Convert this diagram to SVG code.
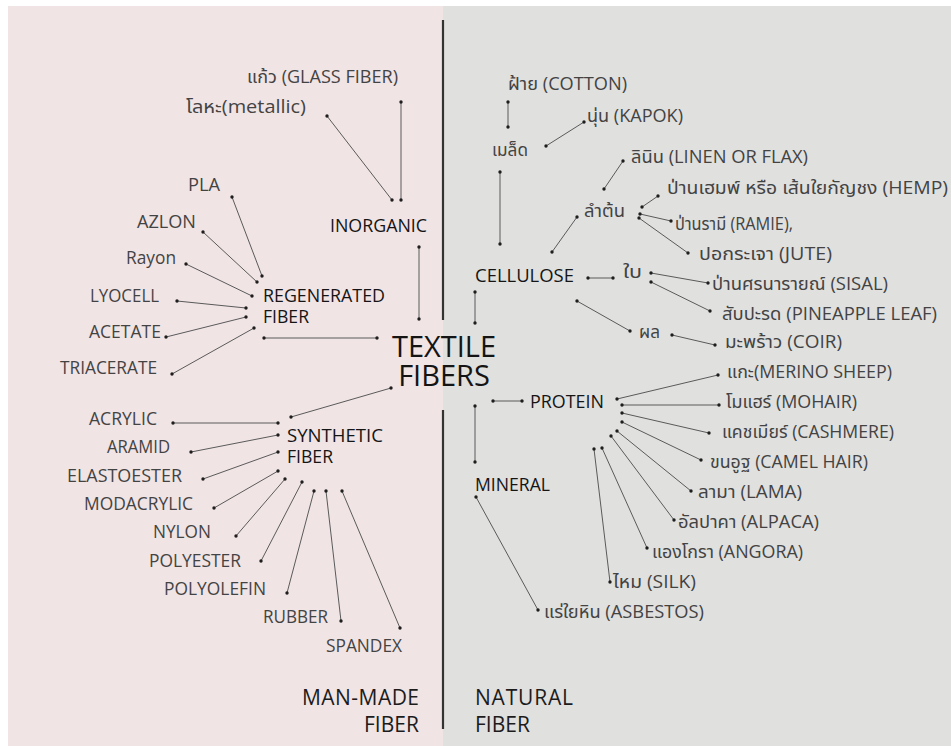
<svg xmlns="http://www.w3.org/2000/svg" width="951" height="746" viewBox="0 0 951 746">
<style>
text{font-family:"Open Sans","Noto Sans Thai","Noto Sans","DejaVu Sans",sans-serif;font-size:18px;fill:#434343}
.cat{fill:#151515;font-weight:500;font-size:17.5px}
.big{font-size:29px;fill:#141414;text-anchor:middle}
.side{font-size:21px;fill:#1c1c1c}
.c line{stroke:#5a5a5a;stroke-width:1;marker-start:url(#dot);marker-end:url(#dot)}
.div{stroke:#333;stroke-width:2.2}
</style>
<defs>
<marker id="dot" markerUnits="userSpaceOnUse" markerWidth="6" markerHeight="6" refX="3" refY="3" viewBox="0 0 6 6"><circle cx="3" cy="3" r="1.7" fill="#1e1e1e"/></marker>
</defs>
<rect width="951" height="746" fill="#ffffff"/>
<rect x="8" y="6" width="435" height="740" fill="#f1e4e5"/>
<rect x="443" y="6" width="508" height="740" fill="#e0e0df"/>
<g id="dividers">
<line class="div" x1="443" y1="20" x2="443" y2="320"/>
<line class="div" x1="443" y1="410" x2="443" y2="729"/>
</g>
<g class="c" id="connectors">
<line x1="401" y1="102" x2="401" y2="200"/>
<line x1="327" y1="116" x2="392" y2="200"/>
<line x1="419" y1="247" x2="419" y2="319"/>
<line x1="232" y1="197" x2="262" y2="276"/>
<line x1="203" y1="232" x2="257" y2="282"/>
<line x1="186" y1="264" x2="252" y2="296"/>
<line x1="177" y1="301" x2="246" y2="308"/>
<line x1="166" y1="337" x2="246" y2="317"/>
<line x1="172" y1="374" x2="254" y2="328"/>
<line x1="264" y1="338" x2="377" y2="338"/>
<line x1="391" y1="388" x2="291" y2="417"/>
<line x1="173" y1="423" x2="278" y2="423"/>
<line x1="191" y1="452" x2="278" y2="435"/>
<line x1="203" y1="479" x2="278" y2="452"/>
<line x1="214" y1="508" x2="278" y2="471"/>
<line x1="236" y1="536" x2="285" y2="479"/>
<line x1="261" y1="561" x2="302" y2="482"/>
<line x1="287" y1="593" x2="314" y2="491"/>
<line x1="341" y1="621" x2="326" y2="491"/>
<line x1="400" y1="628" x2="342" y2="491"/>
<line x1="508" y1="102" x2="508" y2="127"/>
<line x1="584" y1="122" x2="546" y2="146"/>
<line x1="500" y1="172" x2="500" y2="244"/>
<line x1="623" y1="161" x2="604" y2="189"/>
<line x1="577" y1="217" x2="552" y2="252"/>
<line x1="642" y1="207" x2="658" y2="196"/>
<line x1="640" y1="214" x2="671" y2="221"/>
<line x1="639" y1="218" x2="688" y2="253"/>
<line x1="588" y1="278" x2="613" y2="278"/>
<line x1="651" y1="273" x2="708" y2="283"/>
<line x1="651" y1="282" x2="710" y2="311"/>
<line x1="577" y1="301" x2="630" y2="331"/>
<line x1="672" y1="335" x2="715" y2="345"/>
<line x1="475" y1="292" x2="475" y2="323"/>
<line x1="493" y1="401" x2="522" y2="401"/>
<line x1="475" y1="406" x2="475" y2="462"/>
<line x1="617" y1="399" x2="718" y2="375"/>
<line x1="622" y1="405" x2="719" y2="405"/>
<line x1="622" y1="413" x2="709" y2="433"/>
<line x1="622" y1="422" x2="701" y2="460"/>
<line x1="617" y1="431" x2="691" y2="491"/>
<line x1="611" y1="436" x2="674" y2="520"/>
<line x1="602" y1="448" x2="647" y2="548"/>
<line x1="594" y1="449" x2="610" y2="582"/>
<line x1="476" y1="497" x2="538" y2="610"/>
</g>
<g id="textile-fibers"><text class="big"><tspan x="444" y="357">TEXTILE</tspan><tspan x="444" y="386">FIBERS</tspan></text></g>
<g id="man-made"><text class="side" x="419" y="705" text-anchor="end" textLength="117">MAN-MADE</text><text class="side" x="419" y="732" text-anchor="end" textLength="55">FIBER</text></g>
<g id="natural"><text class="side" x="475" y="705" textLength="98">NATURAL</text><text class="side" x="475" y="732" textLength="55">FIBER</text></g>
<g id="inorganic"><text class="cat" x="330" y="232" textLength="97" lengthAdjust="spacingAndGlyphs">INORGANIC</text></g>
<g id="glass"><text x="247" y="83" textLength="151" lengthAdjust="spacingAndGlyphs">แก้ว (GLASS FIBER)</text></g>
<g id="metallic"><text x="186" y="113" textLength="120" lengthAdjust="spacingAndGlyphs">โลหะ(metallic)</text></g>
<g id="regenerated"><text class="cat" x="263" y="302" textLength="122" lengthAdjust="spacingAndGlyphs">REGENERATED</text><text class="cat" x="263" y="323" textLength="46" lengthAdjust="spacingAndGlyphs">FIBER</text></g>
<g id="pla"><text x="188" y="191" textLength="32" lengthAdjust="spacingAndGlyphs">PLA</text></g>
<g id="azlon"><text x="137" y="228" textLength="59" lengthAdjust="spacingAndGlyphs">AZLON</text></g>
<g id="rayon"><text x="126" y="264" textLength="50" lengthAdjust="spacingAndGlyphs">Rayon</text></g>
<g id="lyocell"><text x="90" y="302" textLength="69" lengthAdjust="spacingAndGlyphs">LYOCELL</text></g>
<g id="acetate"><text x="89" y="338" textLength="72" lengthAdjust="spacingAndGlyphs">ACETATE</text></g>
<g id="triacerate"><text x="60" y="374" textLength="97" lengthAdjust="spacingAndGlyphs">TRIACERATE</text></g>
<g id="synthetic"><text class="cat" x="287" y="442" textLength="96" lengthAdjust="spacingAndGlyphs">SYNTHETIC</text><text class="cat" x="287" y="463" textLength="46" lengthAdjust="spacingAndGlyphs">FIBER</text></g>
<g id="acrylic"><text x="89" y="425" textLength="68" lengthAdjust="spacingAndGlyphs">ACRYLIC</text></g>
<g id="aramid"><text x="107" y="453" textLength="63" lengthAdjust="spacingAndGlyphs">ARAMID</text></g>
<g id="elastoester"><text x="67" y="482" textLength="115" lengthAdjust="spacingAndGlyphs">ELASTOESTER</text></g>
<g id="modacrylic"><text x="84" y="510" textLength="109" lengthAdjust="spacingAndGlyphs">MODACRYLIC</text></g>
<g id="nylon"><text x="153" y="538" textLength="58" lengthAdjust="spacingAndGlyphs">NYLON</text></g>
<g id="polyester"><text x="149" y="567" textLength="92" lengthAdjust="spacingAndGlyphs">POLYESTER</text></g>
<g id="polyolefin"><text x="164" y="595" textLength="102" lengthAdjust="spacingAndGlyphs">POLYOLEFIN</text></g>
<g id="rubber"><text x="263" y="623" textLength="65" lengthAdjust="spacingAndGlyphs">RUBBER</text></g>
<g id="spandex"><text x="326" y="652" textLength="76" lengthAdjust="spacingAndGlyphs">SPANDEX</text></g>
<g id="cellulose"><text class="cat" x="475" y="282" textLength="99" lengthAdjust="spacingAndGlyphs">CELLULOSE</text></g>
<g id="seed"><text x="492" y="156" textLength="36" lengthAdjust="spacingAndGlyphs">เมล็ด</text></g>
<g id="cotton"><text x="508" y="90" textLength="119" lengthAdjust="spacingAndGlyphs">ฝ้าย (COTTON)</text></g>
<g id="kapok"><text x="587" y="122" textLength="96" lengthAdjust="spacingAndGlyphs">นุ่น (KAPOK)</text></g>
<g id="stem"><text x="584" y="217" textLength="41" lengthAdjust="spacingAndGlyphs">ลำต้น</text></g>
<g id="linen"><text x="631" y="163" textLength="177" lengthAdjust="spacingAndGlyphs">ลินิน (LINEN OR FLAX)</text></g>
<g id="hemp"><text x="667" y="194" textLength="281" lengthAdjust="spacingAndGlyphs">ป่านเฮมพ์ หรือ เส้นใยกัญชง (HEMP)</text></g>
<g id="ramie"><text x="675" y="230" textLength="118" lengthAdjust="spacingAndGlyphs">ป่านรามี (RAMIE),</text></g>
<g id="jute"><text x="699" y="260" textLength="133" lengthAdjust="spacingAndGlyphs">ปอกระเจา (JUTE)</text></g>
<g id="leaf"><text x="623" y="278" textLength="19" lengthAdjust="spacingAndGlyphs">ใบ</text></g>
<g id="sisal"><text x="712" y="290" textLength="176" lengthAdjust="spacingAndGlyphs">ป่านศรนารายณ์ (SISAL)</text></g>
<g id="pineapple"><text x="722" y="320" textLength="215" lengthAdjust="spacingAndGlyphs">สับปะรด (PINEAPPLE LEAF)</text></g>
<g id="fruit"><text x="639" y="338" textLength="21" lengthAdjust="spacingAndGlyphs">ผล</text></g>
<g id="coir"><text x="725" y="348" textLength="117" lengthAdjust="spacingAndGlyphs">มะพร้าว (COIR)</text></g>
<g id="protein"><text class="cat" x="530" y="408" textLength="74" lengthAdjust="spacingAndGlyphs">PROTEIN</text></g>
<g id="merino"><text x="727" y="378" textLength="165" lengthAdjust="spacingAndGlyphs">แกะ(MERINO SHEEP)</text></g>
<g id="mohair"><text x="726" y="408" textLength="131" lengthAdjust="spacingAndGlyphs">โมแฮร์ (MOHAIR)</text></g>
<g id="cashmere"><text x="722" y="438" textLength="172" lengthAdjust="spacingAndGlyphs">แคชเมียร์ (CASHMERE)</text></g>
<g id="camel"><text x="710" y="468" textLength="158" lengthAdjust="spacingAndGlyphs">ขนอูฐ (CAMEL HAIR)</text></g>
<g id="lama"><text x="698" y="498" textLength="104" lengthAdjust="spacingAndGlyphs">ลามา (LAMA)</text></g>
<g id="alpaca"><text x="678" y="528" textLength="141" lengthAdjust="spacingAndGlyphs">อัลปาคา (ALPACA)</text></g>
<g id="angora"><text x="652" y="558" textLength="151" lengthAdjust="spacingAndGlyphs">แองโกรา (ANGORA)</text></g>
<g id="silk"><text x="613" y="588" textLength="83" lengthAdjust="spacingAndGlyphs">ไหม (SILK)</text></g>
<g id="mineral"><text class="cat" x="475" y="491" textLength="75" lengthAdjust="spacingAndGlyphs">MINERAL</text></g>
<g id="asbestos"><text x="544" y="618" textLength="160" lengthAdjust="spacingAndGlyphs">แร่ใยหิน (ASBESTOS)</text></g>
</svg>
